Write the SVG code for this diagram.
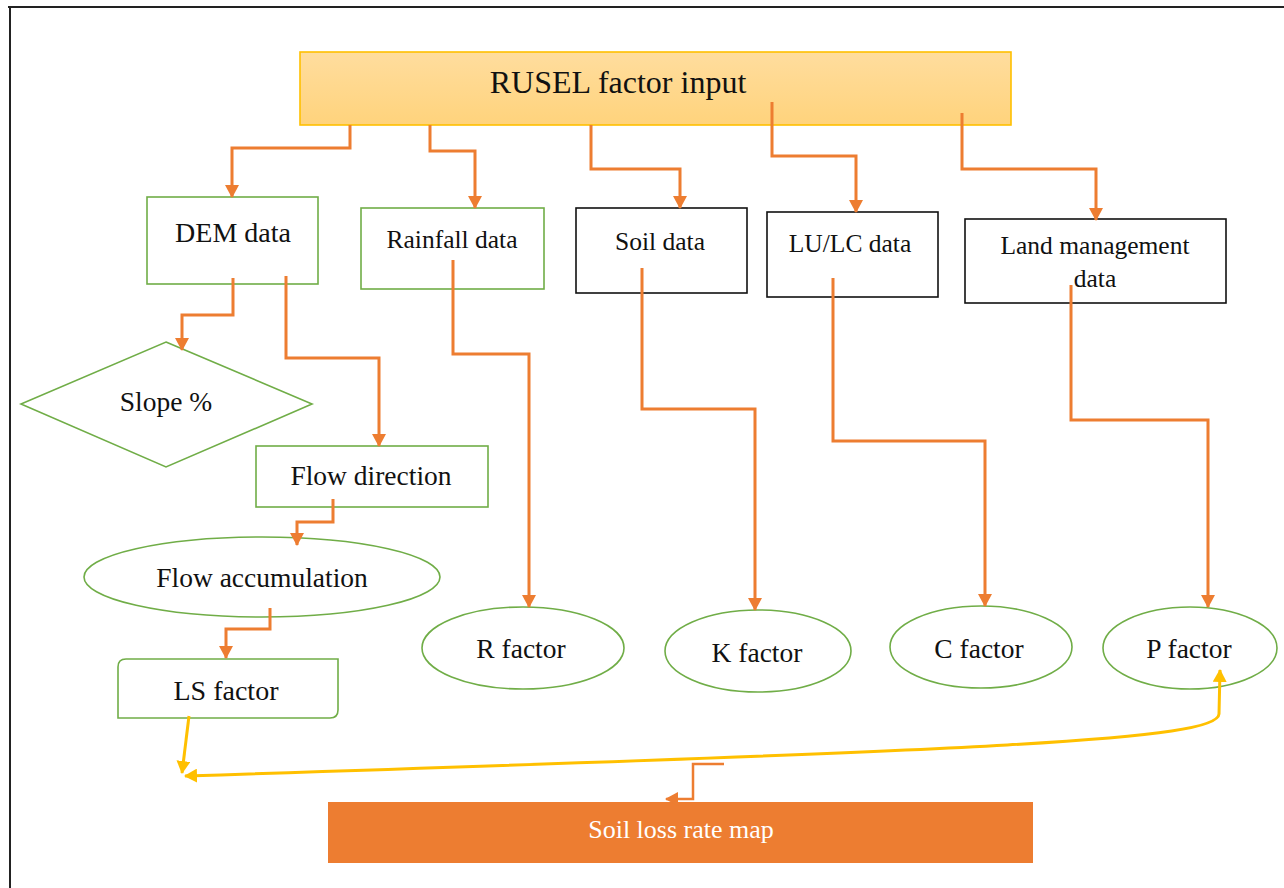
<svg xmlns="http://www.w3.org/2000/svg" width="1284" height="888" viewBox="0 0 1284 888">
<style>
text{font-family:"Liberation Serif","Times New Roman",serif;fill:#111;text-anchor:middle}
.g{fill:#fff;stroke:#70AD47;stroke-width:1.6}
.b{fill:#fff;stroke:#111;stroke-width:1.6}
.o{fill:none;stroke:#ED7D31;stroke-width:3}
.y{fill:none;stroke:#FFC000;stroke-width:3}
.lbl{font-size:25.5px}
.fac{font-size:27.5px}
</style>
<defs>
<linearGradient id="gold" x1="0" y1="0" x2="0" y2="1">
<stop offset="0" stop-color="#FFDD9E"/>
<stop offset="1" stop-color="#FFD37C"/>
</linearGradient>
<marker id="ao" markerUnits="userSpaceOnUse" markerWidth="14" markerHeight="14" viewBox="0 0 14 14" refX="12" refY="7" orient="auto">
<path d="M0,0 L13,7 L0,14 Z" fill="#ED7D31"/>
</marker>
<marker id="ay" markerUnits="userSpaceOnUse" markerWidth="14" markerHeight="14" viewBox="0 0 14 14" refX="12" refY="7" orient="auto">
<path d="M0,0 L13,7 L0,14 Z" fill="#FFC000"/>
</marker>
<marker id="ays" markerUnits="userSpaceOnUse" markerWidth="14" markerHeight="14" viewBox="0 0 14 14" refX="2" refY="7" orient="auto">
<path d="M14,0 L1,7 L14,14 Z" fill="#FFC000"/>
</marker>
</defs>
<rect width="1284" height="888" fill="#fff"/>
<path d="M8,7 H1284 M10,6 V888" fill="none" stroke="#222" stroke-width="2"/>

<g id="rusel">
<rect x="300" y="52" width="711" height="73" fill="url(#gold)" stroke="#FFC000" stroke-width="1.6"/>
<text x="618" y="93" style="font-size:32px">RUSEL factor input</text>
</g>
<g id="dem">
<rect class="g" x="147" y="197" width="171" height="87"/>
<text x="233" y="242" style="font-size:28px">DEM data</text>
</g>
<g id="rainfall">
<rect class="g" x="361" y="208" width="183" height="81"/>
<text class="lbl" x="452" y="248">Rainfall data</text>
</g>
<g id="soil">
<rect class="b" x="576" y="208" width="171" height="85"/>
<text class="lbl" x="660" y="250">Soil data</text>
</g>
<g id="lulc">
<rect class="b" x="767" y="212" width="171" height="85"/>
<text class="lbl" x="850" y="252">LU/LC data</text>
</g>
<g id="landmgmt">
<rect class="b" x="965" y="219" width="261" height="84"/>
<text class="lbl" x="1095" y="254">Land management</text>
<text class="lbl" x="1095" y="287">data</text>
</g>
<g id="slope">
<polygon class="g" points="166,342 312,404 166,467 21,404"/>
<text class="fac" x="166" y="411">Slope %</text>
</g>
<g id="flowdir">
<rect class="g" x="256" y="446" width="232" height="61"/>
<text class="fac" x="371" y="485">Flow direction</text>
</g>
<g id="flowacc">
<ellipse class="g" cx="262" cy="577" rx="178" ry="40"/>
<text class="fac" x="262" y="587">Flow accumulation</text>
</g>
<g id="ls">
<path class="g" d="M126,659 H338 V710 Q338,718 330,718 H118 V667 Q118,659 126,659 Z"/>
<text x="226" y="700" style="font-size:28px">LS factor</text>
</g>
<g id="r">
<ellipse class="g" cx="523" cy="648" rx="101" ry="41"/>
<text class="fac" x="521" y="658">R factor</text>
</g>
<g id="k">
<ellipse class="g" cx="758" cy="651" rx="93" ry="41"/>
<text class="fac" x="757" y="662">K factor</text>
</g>
<g id="c">
<ellipse class="g" cx="981" cy="647" rx="91" ry="41"/>
<text class="fac" x="979" y="658">C factor</text>
</g>
<g id="p">
<ellipse class="g" cx="1190" cy="648" rx="87" ry="41"/>
<text class="fac" x="1189" y="658">P factor</text>
</g>
<g id="soilloss">
<rect x="328" y="802" width="705" height="61" fill="#ED7D31"/>
<text x="681" y="838" style="font-size:26px;fill:#fff">Soil loss rate map</text>
</g>

<g id="connectors">
<path class="o" d="M350,125 V148 H232 V197" marker-end="url(#ao)"/>
<path class="o" d="M430,125 V151 H475 V208" marker-end="url(#ao)"/>
<path class="o" d="M591,125 V169 H680 V208" marker-end="url(#ao)"/>
<path class="o" d="M772,102 V156 H856 V212" marker-end="url(#ao)"/>
<path class="o" d="M962,113 V169 H1096 V220" marker-end="url(#ao)"/>
<path class="o" d="M233,278 V315 H182 V350" marker-end="url(#ao)"/>
<path class="o" d="M286,276 V358 H379 V446" marker-end="url(#ao)"/>
<path class="o" d="M333,499 V522 H297 V545" marker-end="url(#ao)"/>
<path class="o" d="M270,608 V629 H226 V658" marker-end="url(#ao)"/>
<path class="o" d="M453,260 V354 H529 V607" marker-end="url(#ao)"/>
<path class="o" d="M642,268 V409 H755 V610" marker-end="url(#ao)"/>
<path class="o" d="M833,278 V441 H985 V606" marker-end="url(#ao)"/>
<path class="o" d="M1071,285 V420 H1208 V607" marker-end="url(#ao)"/>
<path class="o" d="M724,764 H693 V799 H666" marker-end="url(#ao)" style="stroke-width:2.5"/>
<path class="y" d="M189,716 L182,773" marker-end="url(#ay)"/>
<path class="y" d="M1220,670 L1219,714 C1218,740 1000,750 185,776" marker-start="url(#ays)" marker-end="url(#ay)"/>
</g>
</svg>
